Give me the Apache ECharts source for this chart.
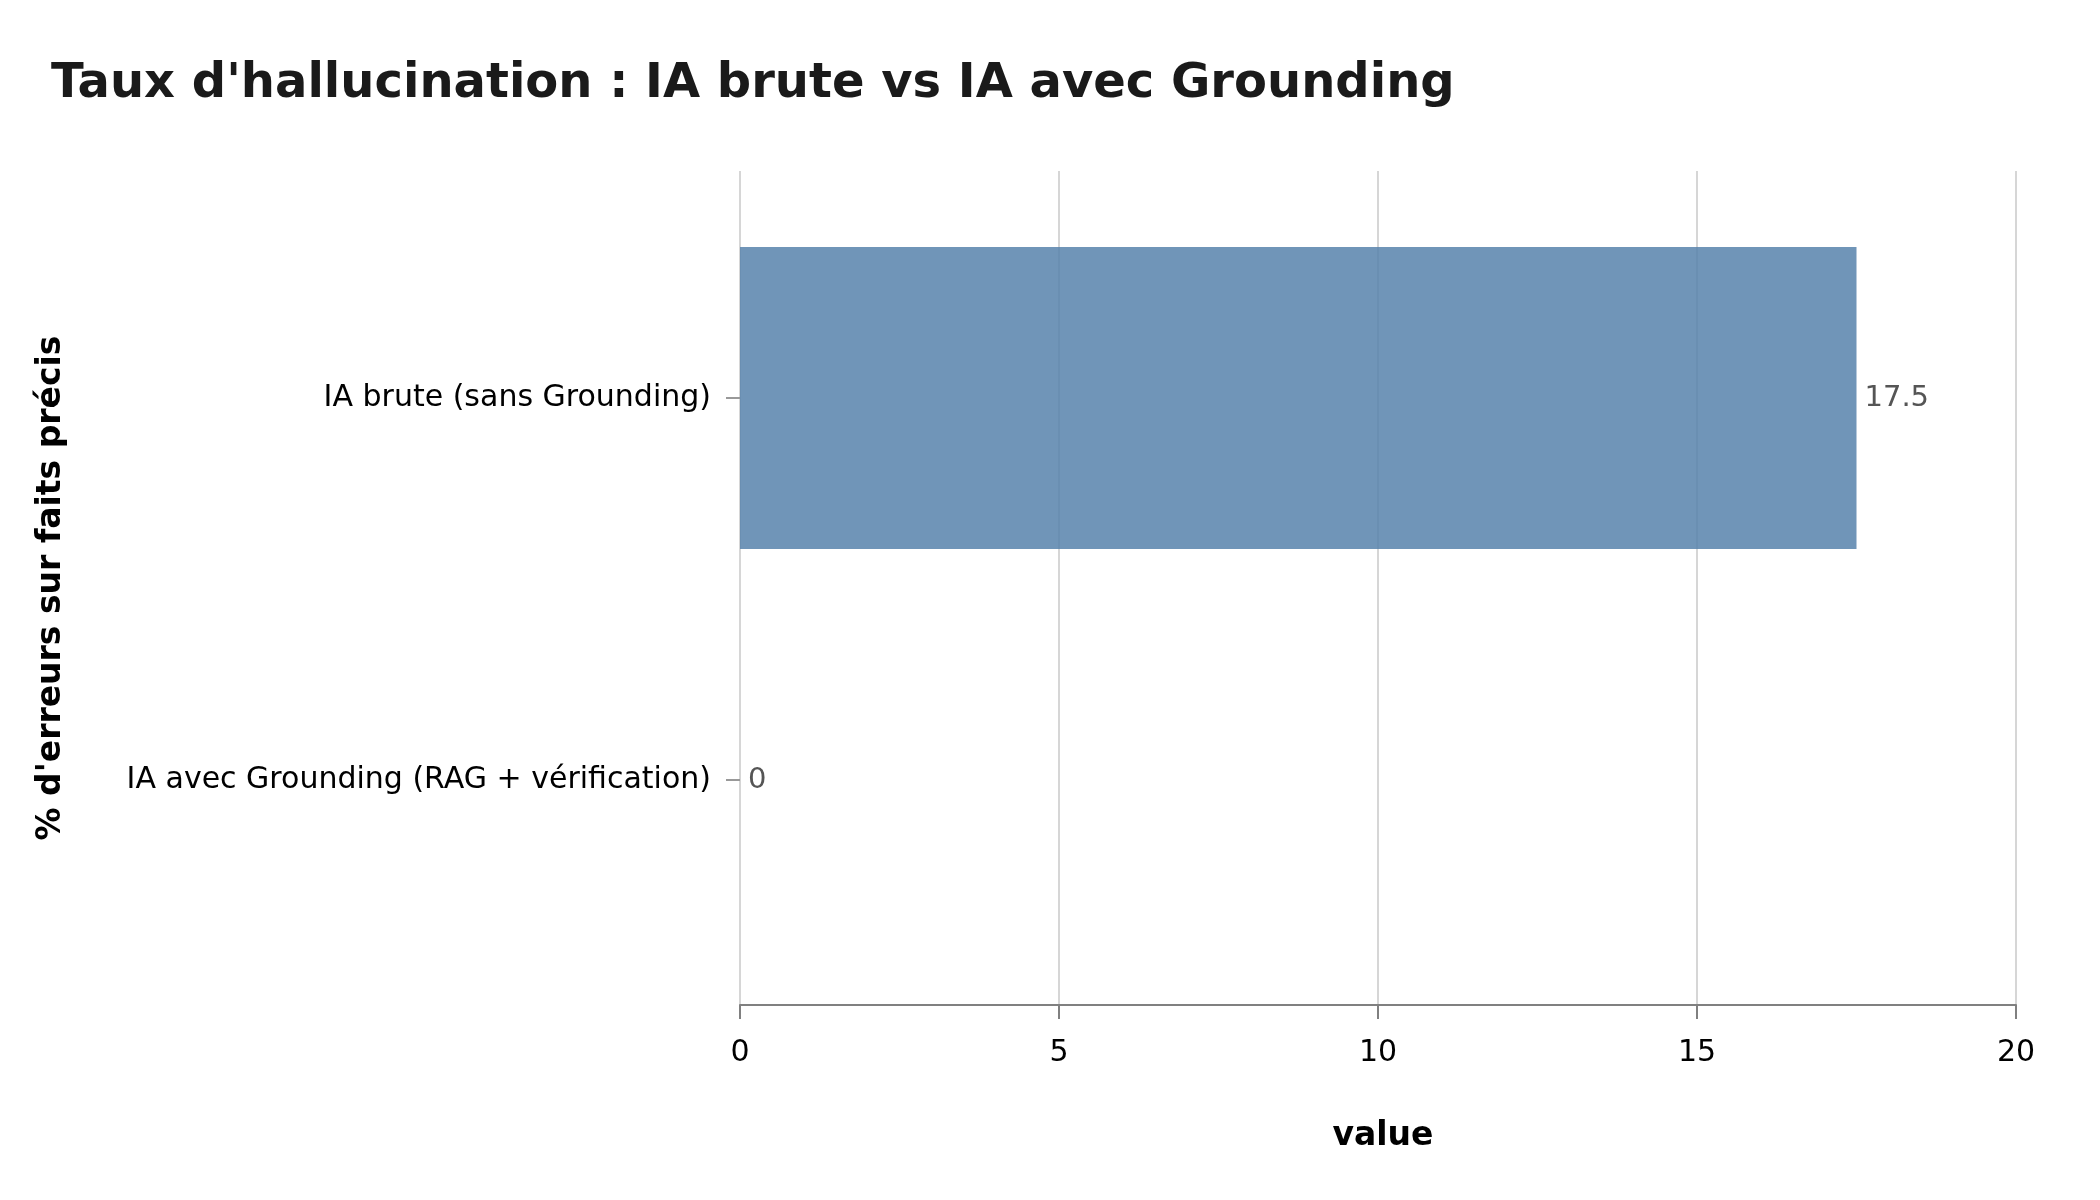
<!DOCTYPE html>
<html>
<head>
<meta charset="utf-8">
<script src="https://cdn.jsdelivr.net/npm/echarts@6/dist/echarts.min.js"></script>
<style>
html,body{margin:0;padding:0;background:#fff;}
#chart{width:2100px;height:1200px;}
</style>
</head>
<body>
<div id="chart"></div>
<script>
const titleText = "Taux d'hallucination : IA brute vs IA avec Grounding";
const categories = ["IA brute (sans Grounding)", "IA avec Grounding (RAG + vérification)"];
const values = [17.5, 0];
const xTicks = [0, 5, 10, 15, 20];
const xAxisName = "value";
const yAxisName = "% d'erreurs sur faits précis";

const FONT = "DejaVu Sans";
const chart = echarts.init(document.getElementById('chart'), null, {renderer: 'canvas'});

const option = {
  backgroundColor: '#ffffff',
  animation: false,
  title: {
    text: titleText,
    left: 46,
    top: 56,
    textStyle: {fontFamily: FONT, fontSize: 48, fontWeight: 'bold', color: '#1a1a1a'}
  },
  grid: [
    {left: 740, right: 84, top: 171, bottom: 195, containLabel: false},
    {left: 740, right: 84, top: 207, bottom: 229, containLabel: false}
  ],
  xAxis: [
    {
      type: 'value', gridIndex: 0,
      min: xTicks[0], max: xTicks[xTicks.length - 1], interval: 5,
      name: xAxisName, nameLocation: 'middle', nameGap: 115,
      nameTextStyle: {fontFamily: FONT, fontSize: 33, fontWeight: 'bold', color: '#000', padding: [0, 0, 0, 10]},
      axisLine: {show: true, lineStyle: {color: '#808080', width: 2}},
      axisTick: {show: true, length: 14, lineStyle: {color: '#808080', width: 2}},
      axisLabel: {margin: 33, fontFamily: FONT, fontSize: 30, color: '#000'},
      splitLine: {show: true, lineStyle: {color: '#d6d6d6', width: 2}}
    },
    {
      type: 'value', gridIndex: 1,
      min: xTicks[0], max: xTicks[xTicks.length - 1], interval: 5,
      show: false
    }
  ],
  yAxis: [
    {
      type: 'value', gridIndex: 0, min: 0, max: 1,
      name: yAxisName, nameLocation: 'middle', nameGap: 672, nameRotate: 90,
      nameTextStyle: {fontFamily: FONT, fontSize: 33, fontWeight: 'bold', color: '#000'},
      axisLine: {show: false}, axisTick: {show: false}, axisLabel: {show: false},
      splitLine: {show: false}
    },
    {
      type: 'category', gridIndex: 1, data: categories, inverse: true,
      axisLine: {show: false},
      axisTick: {show: true, alignWithLabel: true, length: 14, lineStyle: {color: '#999999', width: 2}},
      axisLabel: {margin: 29, fontFamily: FONT, fontSize: 30, color: '#000', padding: [8, 0, 0, 0]},
      splitLine: {show: false}
    }
  ],
  series: [
    {
      type: 'bar',
      xAxisIndex: 1, yAxisIndex: 1,
      data: values,
      barCategoryGap: '21%',
      itemStyle: {color: 'rgba(87,130,171,0.85)'},
      label: {
        show: true, position: 'right', distance: 8,
        fontFamily: FONT, fontSize: 29, color: '#555555', padding: [8, 0, 0, 0],
        formatter: p => String(p.value)
      }
    }
  ]
};
chart.setOption(option);
</script>
</body>
</html>
